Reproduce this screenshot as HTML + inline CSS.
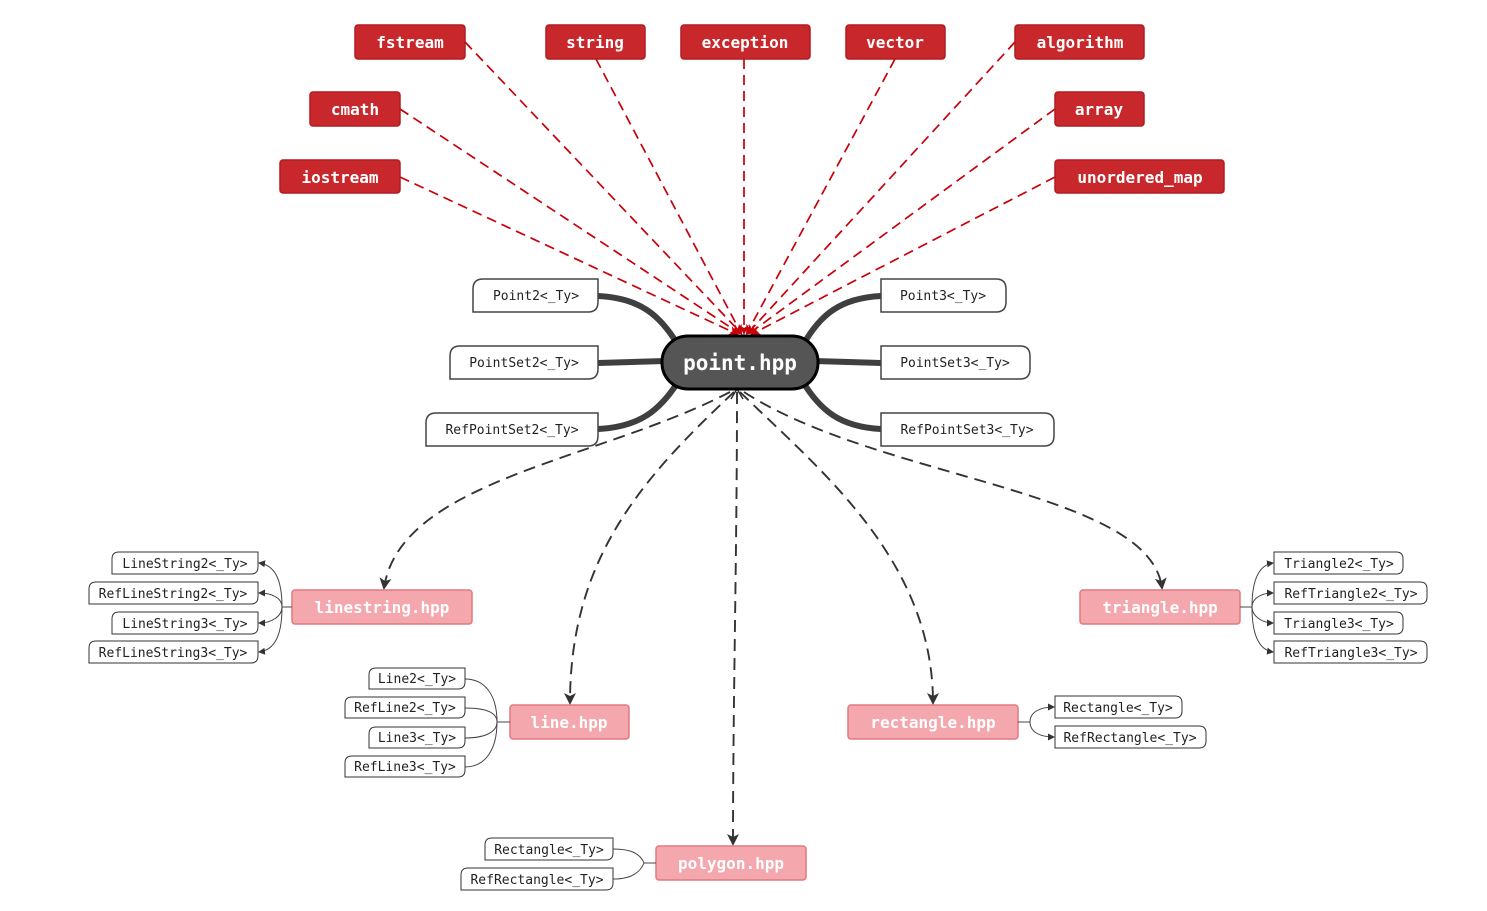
<!DOCTYPE html>
<html><head><meta charset="utf-8"><style>
html,body{margin:0;padding:0;background:#fff}
svg{display:block}
text{font-family:"DejaVu Sans Mono","Liberation Mono",monospace}
.rb{fill:#c8282c;stroke:#b01c20;stroke-width:1.5}
.rt{fill:#fff;font-size:16px;font-weight:bold;text-anchor:middle}
.pk{fill:#f4a7ad;stroke:#e07880;stroke-width:1.5}
.pt{fill:#fff;font-size:16px;font-weight:bold;text-anchor:middle}
.lf{fill:#fff;stroke:#444;stroke-width:1.5}
.lt{fill:#222;font-size:13px;text-anchor:middle}
.sf{fill:#fff;stroke:#333;stroke-width:1}
.st{fill:#222;font-size:13px;text-anchor:middle}
.red{stroke:#c8000a;stroke-width:1.7;stroke-dasharray:10,6;fill:none}
.blk{stroke:#333;stroke-width:1.9;stroke-dasharray:12,7;fill:none}
.thk{stroke:#3f3f3f;stroke-width:6;fill:none}
.thin{stroke:#444;stroke-width:1;fill:none}
</style></head><body>
<svg width="1487" height="911" viewBox="0 0 1487 911" xmlns="http://www.w3.org/2000/svg">
<defs>
<marker id="ar" markerWidth="10" markerHeight="10" refX="8" refY="5" orient="auto" markerUnits="userSpaceOnUse"><path d="M0,0 L10,5 L0,10 L3,5 Z" fill="#c8000a"/></marker>
<marker id="ab" markerWidth="12" markerHeight="12" refX="10" refY="6" orient="auto" markerUnits="userSpaceOnUse"><path d="M0,0 L12,6 L0,12 L3,6 Z" fill="#333"/></marker>
<marker id="as" markerWidth="7" markerHeight="7" refX="6" refY="3.5" orient="auto" markerUnits="userSpaceOnUse"><path d="M0,0 L7,3.5 L0,7 Z" fill="#333"/></marker>
</defs>

<g class="red">
<line x1="465" y1="42" x2="741" y2="333" marker-end="url(#ar)"/>
<line x1="596" y1="59" x2="741" y2="333" marker-end="url(#ar)"/>
<line x1="744" y1="59" x2="744" y2="333" marker-end="url(#ar)"/>
<line x1="895" y1="59" x2="747" y2="333" marker-end="url(#ar)"/>
<line x1="1015" y1="42" x2="748" y2="333" marker-end="url(#ar)"/>
<line x1="400" y1="109" x2="739" y2="333" marker-end="url(#ar)"/>
<line x1="1055" y1="109" x2="750" y2="333" marker-end="url(#ar)"/>
<line x1="400" y1="177" x2="737" y2="334" marker-end="url(#ar)"/>
<line x1="1055" y1="177" x2="752" y2="334" marker-end="url(#ar)"/>
</g>

<rect class="rb" x="355" y="25" width="110" height="34" rx="3"/><text class="rt" x="410" y="48">fstream</text>
<rect class="rb" x="546" y="25" width="99" height="34" rx="3"/><text class="rt" x="595" y="48">string</text>
<rect class="rb" x="681" y="25" width="129" height="34" rx="3"/><text class="rt" x="745" y="48">exception</text>
<rect class="rb" x="846" y="25" width="99" height="34" rx="3"/><text class="rt" x="895" y="48">vector</text>
<rect class="rb" x="1015" y="25" width="129" height="34" rx="3"/><text class="rt" x="1080" y="48">algorithm</text>
<rect class="rb" x="310" y="92" width="90" height="34" rx="3"/><text class="rt" x="355" y="115">cmath</text>
<rect class="rb" x="1055" y="92" width="89" height="34" rx="3"/><text class="rt" x="1099" y="115">array</text>
<rect class="rb" x="280" y="160" width="120" height="33" rx="3"/><text class="rt" x="340" y="183">iostream</text>
<rect class="rb" x="1055" y="160" width="169" height="33" rx="3"/><text class="rt" x="1140" y="183">unordered_map</text>

<path class="thk" d="M598,296 C640,298 660,315 678,345"/>
<path class="thk" d="M598,363 L665,361"/>
<path class="thk" d="M598,429 C640,427 660,410 678,382"/>
<path class="thk" d="M881,296 C840,298 820,315 803,345"/>
<path class="thk" d="M881,363 L815,361"/>
<path class="thk" d="M881,429 C840,427 820,410 803,382"/>

<path class="lf" d="M483,279 H598 V302 Q598,312 588,312 H473 V289 Q473,279 483,279 Z"/><text class="lt" x="536" y="300">Point2&lt;_Ty&gt;</text>
<path class="lf" d="M460,346 H598 V369 Q598,379 588,379 H450 V356 Q450,346 460,346 Z"/><text class="lt" x="524" y="367">PointSet2&lt;_Ty&gt;</text>
<path class="lf" d="M436,413 H598 V436 Q598,446 588,446 H426 V423 Q426,413 436,413 Z"/><text class="lt" x="512" y="434">RefPointSet2&lt;_Ty&gt;</text>
<path class="lf" d="M881,279 H996 Q1006,279 1006,289 V302 Q1006,312 996,312 H881 Z"/><text class="lt" x="943" y="300">Point3&lt;_Ty&gt;</text>
<path class="lf" d="M881,346 H1020 Q1030,346 1030,356 V369 Q1030,379 1020,379 H881 Z"/><text class="lt" x="955" y="367">PointSet3&lt;_Ty&gt;</text>
<path class="lf" d="M881,413 H1044 Q1054,413 1054,423 V436 Q1054,446 1044,446 H881 Z"/><text class="lt" x="967" y="434">RefPointSet3&lt;_Ty&gt;</text>

<g class="blk">
<path d="M730,392 C600,460 400,480 384,588" marker-end="url(#ab)"/>
<path d="M734,392 C640,480 570,560 570,703" marker-end="url(#ab)"/>
<path d="M737,392 C737,550 733,700 733,844" marker-end="url(#ab)"/>
<path d="M740,392 C820,470 933,560 933,703" marker-end="url(#ab)"/>
<path d="M744,392 C880,480 1150,490 1162,588" marker-end="url(#ab)"/>
</g>
<path d="M731,399 L737,389 L743,399" stroke="#333" stroke-width="1.5" fill="none"/>

<rect x="662" y="336" width="156" height="53" rx="26" fill="#555" stroke="#000" stroke-width="3"/>
<text x="740" y="370" fill="#fff" font-size="21" font-weight="bold" text-anchor="middle">point.hpp</text>

<rect class="pk" x="292" y="590" width="180" height="34" rx="3"/><text class="pt" x="382" y="613">linestring.hpp</text>
<rect class="pk" x="510" y="705" width="119" height="34" rx="3"/><text class="pt" x="569" y="728">line.hpp</text>
<rect class="pk" x="848" y="705" width="170" height="34" rx="3"/><text class="pt" x="933" y="728">rectangle.hpp</text>
<rect class="pk" x="1080" y="590" width="160" height="34" rx="3"/><text class="pt" x="1160" y="613">triangle.hpp</text>
<rect class="pk" x="656" y="846" width="150" height="34" rx="3"/><text class="pt" x="731" y="869">polygon.hpp</text>

<g class="thin">
<path d="M292,607 H282"/>
<path d="M282,607 C282,580 275,565 259,563" marker-end="url(#as)"/>
<path d="M282,607 C282,598 272,593 259,593" marker-end="url(#as)"/>
<path d="M282,607 C282,616 272,623 259,623" marker-end="url(#as)"/>
<path d="M282,607 C282,635 275,650 259,652" marker-end="url(#as)"/>
</g>
<path class="sf" d="M119,552 H258 V567 Q258,574 251,574 H112 V559 Q112,552 119,552 Z"/><text class="st" x="185" y="568">LineString2&lt;_Ty&gt;</text>
<path class="sf" d="M96,582 H258 V597 Q258,604 251,604 H89 V589 Q89,582 96,582 Z"/><text class="st" x="173" y="598">RefLineString2&lt;_Ty&gt;</text>
<path class="sf" d="M119,612 H258 V627 Q258,634 251,634 H112 V619 Q112,612 119,612 Z"/><text class="st" x="185" y="628">LineString3&lt;_Ty&gt;</text>
<path class="sf" d="M96,641 H258 V656 Q258,663 251,663 H89 V648 Q89,641 96,641 Z"/><text class="st" x="173" y="657">RefLineString3&lt;_Ty&gt;</text>

<g class="thin">
<path d="M510,722 H497"/>
<path d="M497,722 C497,695 485,679 465,679"/>
<path d="M497,722 C497,712 485,708 465,708"/>
<path d="M497,722 C497,732 485,738 465,738"/>
<path d="M497,722 C497,750 485,767 465,767"/>
</g>
<path class="sf" d="M376,668 H465 V682 Q465,689 458,689 H369 V675 Q369,668 376,668 Z"/><text class="st" x="417" y="683">Line2&lt;_Ty&gt;</text>
<path class="sf" d="M352,697 H465 V711 Q465,718 458,718 H345 V704 Q345,697 352,697 Z"/><text class="st" x="405" y="712">RefLine2&lt;_Ty&gt;</text>
<path class="sf" d="M376,727 H465 V741 Q465,748 458,748 H369 V734 Q369,727 376,727 Z"/><text class="st" x="417" y="742">Line3&lt;_Ty&gt;</text>
<path class="sf" d="M352,756 H465 V770 Q465,777 458,777 H345 V763 Q345,756 352,756 Z"/><text class="st" x="405" y="771">RefLine3&lt;_Ty&gt;</text>

<g class="thin">
<path d="M1018,722 H1030"/>
<path d="M1030,722 C1030,712 1040,707 1054,707" marker-end="url(#as)"/>
<path d="M1030,722 C1030,732 1040,737 1054,737" marker-end="url(#as)"/>
</g>
<path class="sf" d="M1055,696 H1175 Q1182,696 1182,703 V711 Q1182,718 1175,718 H1055 Z"/><text class="st" x="1118" y="712">Rectangle&lt;_Ty&gt;</text>
<path class="sf" d="M1055,726 H1199 Q1206,726 1206,733 V741 Q1206,748 1199,748 H1055 Z"/><text class="st" x="1130" y="742">RefRectangle&lt;_Ty&gt;</text>

<g class="thin">
<path d="M1240,607 H1252"/>
<path d="M1252,607 C1252,580 1259,565 1273,563" marker-end="url(#as)"/>
<path d="M1252,607 C1252,598 1262,593 1273,593" marker-end="url(#as)"/>
<path d="M1252,607 C1252,616 1262,623 1273,623" marker-end="url(#as)"/>
<path d="M1252,607 C1252,635 1259,650 1273,652" marker-end="url(#as)"/>
</g>
<path class="sf" d="M1274,552 H1396 Q1403,552 1403,559 V567 Q1403,574 1396,574 H1274 Z"/><text class="st" x="1339" y="568">Triangle2&lt;_Ty&gt;</text>
<path class="sf" d="M1274,582 H1420 Q1427,582 1427,589 V597 Q1427,604 1420,604 H1274 Z"/><text class="st" x="1351" y="598">RefTriangle2&lt;_Ty&gt;</text>
<path class="sf" d="M1274,612 H1396 Q1403,612 1403,619 V627 Q1403,634 1396,634 H1274 Z"/><text class="st" x="1339" y="628">Triangle3&lt;_Ty&gt;</text>
<path class="sf" d="M1274,641 H1420 Q1427,641 1427,648 V656 Q1427,663 1420,663 H1274 Z"/><text class="st" x="1351" y="657">RefTriangle3&lt;_Ty&gt;</text>

<g class="thin">
<path d="M656,863 H644"/>
<path d="M644,863 C640,853 630,849 613,849"/>
<path d="M644,863 C640,873 630,879 613,879"/>
</g>
<path class="sf" d="M492,838 H613 V853 Q613,860 606,860 H485 V845 Q485,838 492,838 Z"/><text class="st" x="549" y="854">Rectangle&lt;_Ty&gt;</text>
<path class="sf" d="M468,868 H613 V883 Q613,890 606,890 H461 V875 Q461,868 468,868 Z"/><text class="st" x="537" y="884">RefRectangle&lt;_Ty&gt;</text>
</svg>
</body></html>
